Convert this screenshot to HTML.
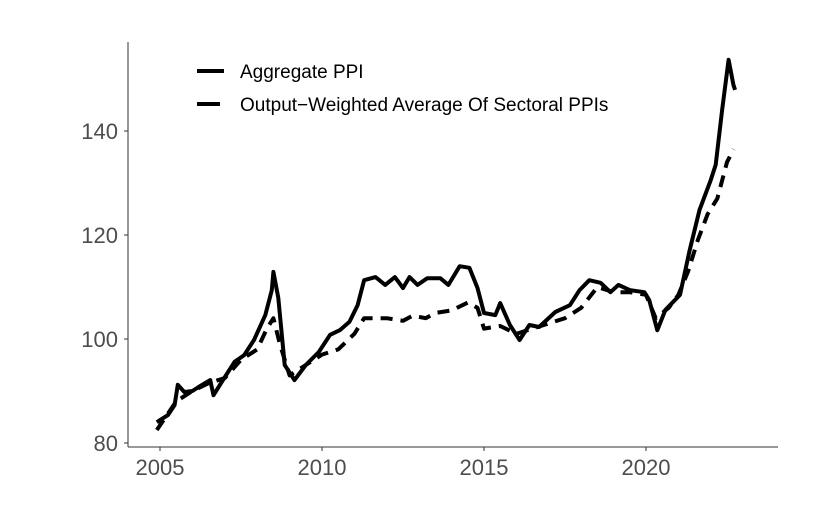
<!DOCTYPE html>
<html><head><meta charset="utf-8"><style>
body{margin:0;background:#fff;}
svg{display:block;font-family:"Liberation Sans",sans-serif;}
</style></head><body>
<svg id="chart" width="830" height="518">
<g id="axes"></g>
<g id="series"></g>
<g>
<g>
<line x1="197" y1="71" x2="224" y2="71" stroke="#000" stroke-width="4"/>
<text x="240" y="78" font-size="19" fill="#000">Aggregate PPI</text></g>
<g>
<line x1="197" y1="104" x2="220" y2="104" stroke="#000" stroke-width="4"/>
<text x="240" y="111" font-size="19" fill="#000">Output−Weighted Average Of Sectoral PPIs</text></g>
</g>
</svg>
<script>
const xTicks=[2005,2010,2015,2020];
const yTicks=[80,100,120,140];
const aggYears=[2004.9,2005.25,2005.45,2005.55,2005.75,2006,2006.25,2006.55,2006.65,2006.9,2007.3,2007.6,2007.9,2008.25,2008.45,2008.5,2008.65,2008.85,2009.15,2009.5,2009.9,2010.25,2010.55,2010.85,2011.1,2011.3,2011.65,2011.95,2012.25,2012.5,2012.7,2012.95,2013.25,2013.65,2013.9,2014.25,2014.55,2014.8,2015,2015.35,2015.5,2015.8,2016.1,2016.4,2016.7,2017.2,2017.65,2017.95,2018.25,2018.6,2018.9,2019.15,2019.5,2019.95,2020.1,2020.35,2020.6,2021.05,2021.35,2021.65,2022,2022.15,2022.35,2022.55,2022.7,2022.75];
const aggValues=[84,85.4,87.3,91.2,89.8,90,91,92.1,89.2,91.7,95.6,96.9,99.8,104.6,109.4,112.9,107.9,95,92.1,95,97.5,100.8,101.7,103.3,106.5,111.3,111.9,110.4,111.9,109.8,111.9,110.4,111.7,111.7,110.4,114,113.7,109.8,105,104.6,106.9,102.7,99.8,102.7,102.3,105.2,106.5,109.4,111.3,110.8,109,110.4,109.4,109,107.5,101.7,105.6,108.5,117.1,124.8,130.6,133.5,144,153.7,148.8,147.9];
const wYears=[2004.9,2005.5,2006,2006.5,2007,2007.5,2008,2008.3,2008.5,2008.7,2009,2009.5,2010,2010.5,2011,2011.3,2012,2012.5,2012.8,2013.2,2013.5,2014,2014.5,2014.8,2015,2015.5,2016,2016.5,2017,2017.5,2018,2018.5,2019,2019.5,2020,2020.3,2020.7,2021,2021.3,2021.6,2021.9,2022.2,2022.5,2022.7];
const wValues=[82.5,88,90,91.5,92.5,96,98,102,104,99,93,95,97,98,101,104,104,103.5,104.5,104,105,105.5,107,106,102,102.5,101,102,103,104,106,110,109,109,108.5,104,106,108.5,113,119,124,127,134,136.5];
const NS="http://www.w3.org/2000/svg";
const xs=y=>160+(y-2005)*32.4;
const ys=v=>443-(v-80)*5.2;
const ax=document.getElementById('axes'), se=document.getElementById('series');
function mk(tag,attrs,parent){const e=document.createElementNS(NS,tag);for(const k in attrs)e.setAttribute(k,attrs[k]);parent.appendChild(e);return e;}
const yl=mk('line',{x1:128,y1:42,x2:128,y2:447,stroke:'#333','stroke-width':1},ax);


const xl=mk('line',{x1:128,y1:447,x2:778,y2:447,stroke:'#333','stroke-width':1},ax);


yTicks.forEach(v=>{
  const t=mk('line',{x1:124,x2:128,y1:ys(v),y2:ys(v),stroke:'#333'},ax);
  
  
  const l=mk('text',{x:118,y:ys(v)+8,'text-anchor':'end','font-size':22,fill:'#4d4d4d'},ax);
  l.textContent=v;
  
  
});
xTicks.forEach(v=>{
  const t=mk('line',{x1:xs(v),x2:xs(v),y1:447,y2:451,stroke:'#333'},ax);
  
  
  const l=mk('text',{x:xs(v),y:475,'text-anchor':'middle','font-size':22,fill:'#4d4d4d'},ax);
  l.textContent=v;
  
  
});
function path(xv,yv){return xv.map((x,i)=>(i?'L':'M')+xs(x).toFixed(1)+','+ys(yv[i]).toFixed(1)).join('');}
const p2=mk('path',{d:path(wYears,wValues),fill:'none',stroke:'#000','stroke-width':4,'stroke-dasharray':'12,8','stroke-linejoin':'round'},se);


const p1=mk('path',{d:path(aggYears,aggValues),fill:'none',stroke:'#000','stroke-width':4,'stroke-linejoin':'round'},se);


</script>
</body></html>
